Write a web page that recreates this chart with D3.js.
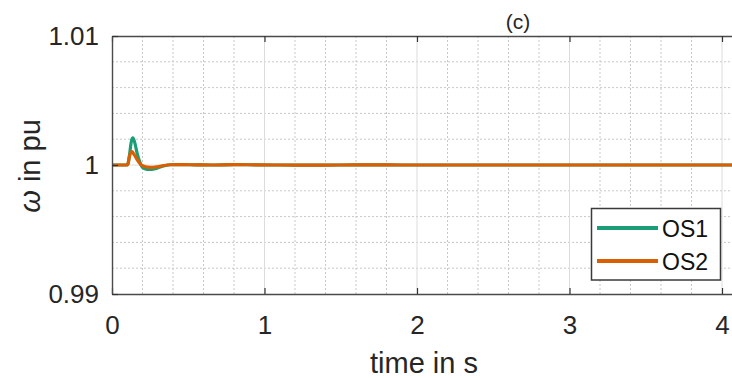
<!DOCTYPE html>
<html>
<head>
<meta charset="utf-8">
<script src="https://cdn.jsdelivr.net/npm/d3@7"></script>
<style>
  html, body { margin: 0; padding: 0; background: #fff; }
  svg { display: block; font-family: "Liberation Sans", Arial, Helvetica, sans-serif; }
</style>
</head>
<body>
<svg id="chart" width="732" height="378"></svg>
<script>
// Rotor speed of two generators after a disturbance at t ≈ 0.1 s
const timeS = [0, 0.1, 0.105, 0.115, 0.125, 0.13, 0.135, 0.14, 0.15, 0.165, 0.18, 0.195, 0.21, 0.23,
  0.26, 0.29, 0.33, 0.38, 0.45, 0.55, 0.65, 0.8, 0.95, 1.1, 1.3, 1.5, 1.7, 1.9, 2.2, 2.6, 3.0, 3.5, 4.1];
const omegaOS1 = [1, 1, 1.0001, 1.0008, 1.0017, 1.00198, 1.0021, 1.00205, 1.0017, 1.0009, 1.0003, 0.9999,
  0.99973, 0.99966, 0.99965, 0.99973, 0.9999, 1.00002, 1.00003, 1.00001, 1.0, 1.00003, 1.00001, 1.0,
  0.99999, 1.0, 1.00001, 1.0, 1.0, 1.0, 1.0, 1.0, 1.0];
const omegaOS2 = [1, 1, 1.0001, 1.0007, 1.00098, 1.00103, 1.001, 1.0009, 1.00072, 1.00042, 1.00016, 0.99998,
  0.9999, 0.99984, 0.99981, 0.99985, 0.99994, 1.00002, 1.00003, 1.00001, 1.0, 1.00003, 1.00001, 1.0,
  0.99999, 1.0, 1.00001, 1.0, 1.0, 1.0, 1.0, 1.0, 1.0];

const seriesNames = ["OS1", "OS2"];
const seriesColors = ["#1b9e77", "#d95f02"];
const xTicks = [0, 1, 2, 3, 4];
const yTicks = [0.99, 1, 1.01];
const yTickLabels = ["0.99", "1", "1.01"];
const xMinor = d3.range(0, 4.11, 0.2);
const yMinor = d3.range(0.99, 1.0101, 0.002);

(function draw() {
  const svg = d3.select("#chart");
  const mLeft = 112, mTop = 36, mBottom = 294;
  const x = d3.scaleLinear().domain([0, 4.1]).range([mLeft, mLeft + 4.1 * 152.5]);
  const y = d3.scaleLinear().domain([0.99, 1.01]).range([mBottom, mTop]);
  const mRight = x.range()[1];
  const textColor = "#262626";

  // grid
  const grid = svg.append("g");
  grid.selectAll("line.vminor").data(xMinor.filter(v => Math.abs(v - Math.round(v)) > 1e-6))
    .join("line")
    .attr("x1", d => x(d)).attr("x2", d => x(d)).attr("y1", mTop).attr("y2", mBottom)
    .attr("stroke", "#c8c8c8").attr("stroke-width", 1).attr("stroke-dasharray", "2,2");
  grid.selectAll("line.hminor").data(yMinor.filter(v => Math.abs(v * 100 - Math.round(v * 100)) > 1e-6))
    .join("line")
    .attr("x1", mLeft).attr("x2", mRight).attr("y1", d => y(d)).attr("y2", d => y(d))
    .attr("stroke", "#c8c8c8").attr("stroke-width", 1).attr("stroke-dasharray", "2,2");
  grid.selectAll("line.vmajor").data(xTicks.slice(1))
    .join("line")
    .attr("x1", d => x(d)).attr("x2", d => x(d)).attr("y1", mTop).attr("y2", mBottom)
    .attr("stroke", "#dcdcdc").attr("stroke-width", 1);
  grid.append("line")
    .attr("x1", mLeft).attr("x2", mRight).attr("y1", y(1)).attr("y2", y(1))
    .attr("stroke", "#dcdcdc").attr("stroke-width", 1);

  // data lines
  const line = d3.line().x(d => x(d[0])).y(d => y(d[1])).curve(d3.curveMonotoneX);
  [omegaOS1, omegaOS2].forEach((vals, i) => {
    svg.append("path")
      .datum(timeS.map((t, k) => [t, vals[k]]))
      .attr("d", line)
      .attr("fill", "none")
      .attr("stroke", seriesColors[i])
      .attr("stroke-width", 3.2)
      .attr("stroke-linejoin", "round");
  });

  // axes with inward ticks
  function styleAxis(g) {
    g.select(".domain").attr("stroke", "#4a4a4a").attr("stroke-width", 1.4);
    g.selectAll(".tick line").attr("stroke", "#333").attr("stroke-width", 1.2);
    g.selectAll(".tick text").attr("fill", textColor).attr("font-size", 26)
      .attr("font-family", "'Liberation Sans', Arial, sans-serif");
  }
  svg.append("g").attr("transform", `translate(0,${mBottom})`)
    .call(d3.axisBottom(x).tickValues(xTicks).tickFormat(d3.format("d")).tickSize(-6).tickSizeOuter(0).tickPadding(22))
    .call(styleAxis);
  svg.append("g").attr("transform", `translate(0,${mTop})`)
    .call(d3.axisTop(x).tickValues(xTicks).tickFormat("").tickSize(-6).tickSizeOuter(0))
    .call(styleAxis);
  svg.append("g").attr("transform", `translate(${mLeft},0)`)
    .call(d3.axisLeft(y).tickValues(yTicks).tickFormat((d, i) => yTickLabels[i]).tickSize(-6).tickSizeOuter(0).tickPadding(13))
    .call(styleAxis);

  // axis labels and title
  svg.append("text")
    .attr("x", 424).attr("y", 373)
    .attr("text-anchor", "middle").attr("font-size", 29).attr("fill", textColor)
    .text("time in s");
  const yl = svg.append("text")
    .attr("transform", "translate(40,166) rotate(-90)")
    .attr("text-anchor", "middle").attr("font-size", 29).attr("fill", textColor);
  yl.append("tspan").attr("font-style", "italic").text("ω");
  yl.append("tspan").text(" in pu");
  svg.append("text")
    .attr("x", 518).attr("y", 29)
    .attr("text-anchor", "middle").attr("font-size", 21).attr("fill", textColor)
    .text("(c)");

  // legend
  const lg = svg.append("g");
  lg.append("rect")
    .attr("x", 591.5).attr("y", 208.5).attr("width", 129).attr("height", 71.5)
    .attr("fill", "#fff").attr("stroke", "#3a3a3a").attr("stroke-width", 1.5);
  seriesNames.forEach((name, i) => {
    const ly = 228 + i * 33;
    lg.append("line")
      .attr("x1", 597).attr("x2", 658).attr("y1", ly).attr("y2", ly)
      .attr("stroke", seriesColors[i]).attr("stroke-width", 4);
    lg.append("text")
      .attr("x", 662).attr("y", ly + 9)
      .attr("font-size", 23).attr("fill", "#111")
      .text(name);
  });
})();
</script>
</body>
</html>
